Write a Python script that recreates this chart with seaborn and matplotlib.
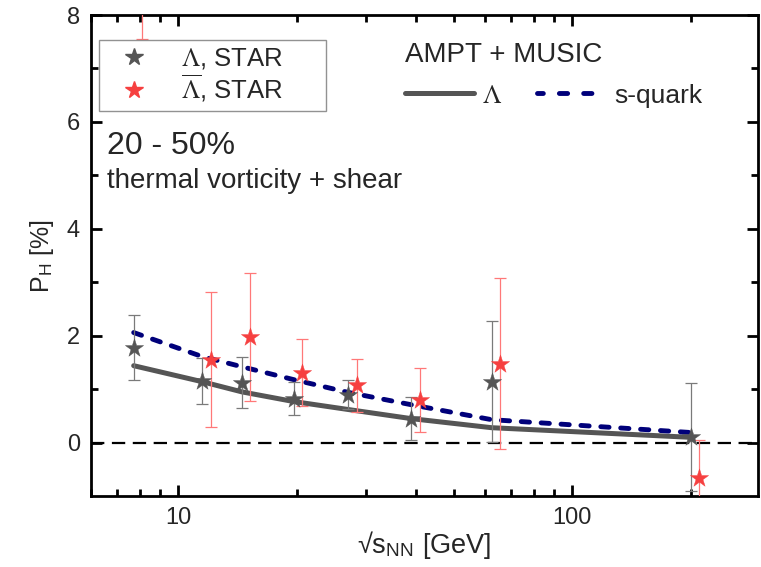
import matplotlib
matplotlib.use("Agg")
import matplotlib.pyplot as plt
import seaborn as sns
import pandas as pd
from matplotlib.ticker import FixedLocator, NullFormatter, LogLocator
from matplotlib.lines import Line2D

# Data
energy = [7.7, 11.5, 14.5, 19.6, 27, 39, 62.4, 200]
lam_star = [1.78, 1.16, 1.12, 0.82, 0.90, 0.45, 1.14, 0.11]
lam_err = [0.60, 0.43, 0.48, 0.31, 0.27, 0.40, 1.13, 1.01]
alam_energy = [8.06, 12.07, 15.2, 20.6, 28.35, 40.95, 65.5, 210]
alam_star = [8.70, 1.55, 1.98, 1.31, 1.07, 0.80, 1.48, -0.67]
alam_err = [1.15, 1.26, 1.20, 0.63, 0.50, 0.60, 1.60, 0.72]
ampt_lambda = [1.44, 1.14, 0.95, 0.77, 0.62, 0.45, 0.28, 0.10]
ampt_squark = [2.06, 1.61, 1.42, 1.18, 0.94, 0.71, 0.43, 0.19]

# Style
sns.set_theme(style="ticks")
plt.rcParams["font.family"] = ["Liberation Sans", "DejaVu Sans"]
plt.rcParams["mathtext.fontset"] = "stix"

COL_LAM = "#555555"
COL_LAM_ERR = "#7a7a7a"
COL_ALAM = "#f64040"
COL_ALAM_ERR = "#ff7878"
COL_SQ = "#00007a"
SQ_DASH = (0, (1.7, 2.4))

df_model = pd.DataFrame({"energy": energy, "lam": ampt_lambda, "sq": ampt_squark})
df_lam = pd.DataFrame({"energy": energy, "P": lam_star, "err": lam_err})
df_alam = pd.DataFrame({"energy": alam_energy, "P": alam_star, "err": alam_err})

fig = plt.figure(figsize=(7.61, 5.67), dpi=100)
ax = fig.add_axes([0.1196, 0.125, 0.8764, 0.8485])
ax.set_xscale("log")

# zero line
ax.axhline(0, color="black", lw=1.6, linestyle=(0, (6, 3.4)), zorder=1)

# model curves
sns.lineplot(data=df_model, x="energy", y="lam", color=COL_LAM, lw=3.6, ax=ax, zorder=2)
sns.lineplot(data=df_model, x="energy", y="sq", color=COL_SQ, lw=3.5,
             linestyle=SQ_DASH, dash_capstyle="round", ax=ax, zorder=3)

# error bars
ax.errorbar(df_lam["energy"], df_lam["P"], yerr=df_lam["err"], fmt="none",
            ecolor=COL_LAM_ERR, elinewidth=0.9, capsize=4, capthick=0.9, zorder=4)
ax.errorbar(df_alam["energy"], df_alam["P"], yerr=df_alam["err"], fmt="none",
            ecolor=COL_ALAM_ERR, elinewidth=0.9, capsize=4, capthick=0.9, zorder=4)

# data points
sns.scatterplot(data=df_lam, x="energy", y="P", marker="*", s=190, color=COL_LAM,
                edgecolor=COL_LAM, linewidth=0.3, ax=ax, zorder=5)
sns.scatterplot(data=df_alam, x="energy", y="P", marker="*", s=190, color=COL_ALAM,
                edgecolor=COL_ALAM, linewidth=0.3, ax=ax, zorder=5)

# axes
ax.set_xlim(6, 296)
ax.set_ylim(-1, 8)
ax.set_yticks([0, 2, 4, 6, 8])
ax.yaxis.set_minor_locator(FixedLocator([1, 3, 5, 7]))
ax.xaxis.set_major_locator(FixedLocator([10, 100]))
ax.set_xticklabels(["10", "100"])
ax.xaxis.set_minor_locator(LogLocator(base=10, subs=range(2, 10)))
ax.xaxis.set_minor_formatter(NullFormatter())
for s in ax.spines.values():
    s.set_linewidth(2.0)
    s.set_color("black")
ax.tick_params(which="both", direction="in", top=True, right=True, width=2.0, color="black")
ax.tick_params(which="major", length=8, labelsize=17, pad=8)
ax.tick_params(which="minor", length=5)
ax.set_xlabel(r"√s$_\mathregular{NN}$ [GeV]", fontsize=19.5, labelpad=0)
ax.set_ylabel(r"P$_\mathregular{H}$ [%]", fontsize=18, labelpad=8)

# texts
ax.text(0.024, 0.728, "20 - 50%", transform=ax.transAxes, fontsize=23, va="center", ha="left")
ax.text(0.024, 0.656, "thermal vorticity + shear", transform=ax.transAxes, fontsize=20,
        va="center", ha="left")

# legend 1 (data)
h1 = [Line2D([], [], ls="none", marker="*", ms=13, color=COL_LAM),
      Line2D([], [], ls="none", marker="*", ms=13, color=COL_ALAM)]
leg1 = ax.legend(h1, [r"$\Lambda$, STAR      ", r"$\overline{\Lambda}$, STAR      "],
                 loc="upper left", bbox_to_anchor=(0.012, 0.948), borderaxespad=0,
                 fontsize=18.5, frameon=True, fancybox=False, edgecolor="#777777",
                 handlelength=2.2, handletextpad=0.75, borderpad=0.25, labelspacing=0.05)
leg1.get_frame().set_linewidth(1.0)
ax.add_artist(leg1)

# legend 2 (model)
h2 = [Line2D([], [], color=COL_LAM, lw=3.6),
      Line2D([], [], color=COL_SQ, lw=3.5, ls=(0.5, (1.7, 3.3)), dash_capstyle="round")]
leg2 = ax.legend(h2, [r"$\Lambda$", "s-quark"], title="AMPT + MUSIC", ncol=2,
                 loc="upper left", bbox_to_anchor=(0.455, 0.965), borderaxespad=0,
                 fontsize=19, title_fontsize=20, frameon=False, alignment="left",
                 handlelength=2.6, handletextpad=0.3, columnspacing=1.35)
leg2._legend_box.sep = 11

fig.savefig("out.png", dpi=100)
